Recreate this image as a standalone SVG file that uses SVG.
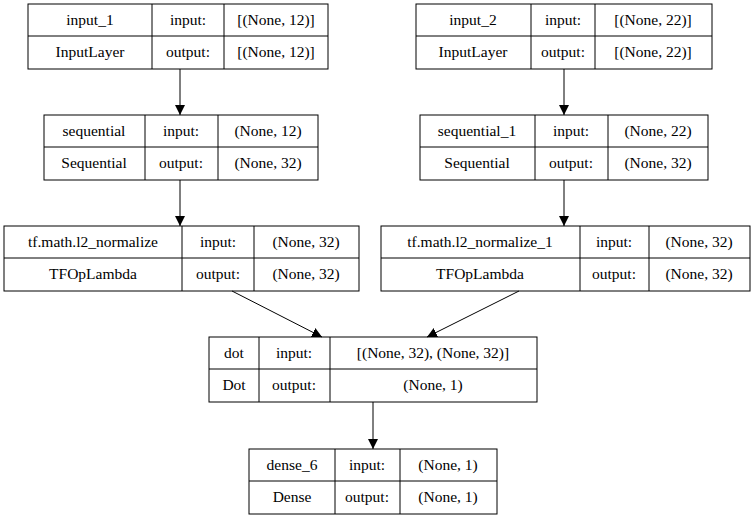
<svg xmlns="http://www.w3.org/2000/svg" width="755" height="516" viewBox="0 0 755 516">
<style>
rect{fill:#fff;stroke:#000;stroke-width:1}
line.d{stroke:#000;stroke-width:1}
text{font-family:"Liberation Serif",serif;font-size:15.5px;text-anchor:middle;fill:#000}
.c line{stroke:#000;stroke-width:1}
</style>
<defs><marker id="a" viewBox="0 0 10 10" refX="10" refY="5" markerWidth="10" markerHeight="10" markerUnits="userSpaceOnUse" orient="auto"><path d="M0,0L10,5L0,10z" fill="#000"/></marker></defs>
<rect x="0" y="0" width="755" height="516" style="stroke:none"/>
<g id="input_1"><rect x="28" y="4" width="300" height="65"/><line class="d" x1="28" y1="36" x2="328" y2="36"/><line class="d" x1="152" y1="4" x2="152" y2="69"/><line class="d" x1="224" y1="4" x2="224" y2="69"/>
<text x="90" y="25">input_1</text><text x="188" y="25">input:</text><text x="276" y="25">[(None, 12)]</text>
<text x="90" y="57">InputLayer</text><text x="188" y="57">output:</text><text x="276" y="57">[(None, 12)]</text></g>
<g id="input_2"><rect x="416" y="4" width="296" height="65"/><line class="d" x1="416" y1="36" x2="712" y2="36"/><line class="d" x1="531" y1="4" x2="531" y2="69"/><line class="d" x1="595" y1="4" x2="595" y2="69"/>
<text x="473" y="25">input_2</text><text x="563" y="25">input:</text><text x="653" y="25">[(None, 22)]</text>
<text x="473" y="57">InputLayer</text><text x="563" y="57">output:</text><text x="653" y="57">[(None, 22)]</text></g>
<g id="sequential"><rect x="44" y="115" width="274" height="65"/><line class="d" x1="44" y1="147" x2="318" y2="147"/><line class="d" x1="145" y1="115" x2="145" y2="180"/><line class="d" x1="218" y1="115" x2="218" y2="180"/>
<text x="94" y="136">sequential</text><text x="181" y="136">input:</text><text x="268" y="136">(None, 12)</text>
<text x="94" y="168">Sequential</text><text x="181" y="168">output:</text><text x="268" y="168">(None, 32)</text></g>
<g id="sequential_1"><rect x="420" y="115" width="288" height="65"/><line class="d" x1="420" y1="147" x2="708" y2="147"/><line class="d" x1="535" y1="115" x2="535" y2="180"/><line class="d" x1="608" y1="115" x2="608" y2="180"/>
<text x="477" y="136">sequential_1</text><text x="571" y="136">input:</text><text x="658" y="136">(None, 22)</text>
<text x="477" y="168">Sequential</text><text x="571" y="168">output:</text><text x="658" y="168">(None, 32)</text></g>
<g id="l2n"><rect x="4" y="226" width="355" height="65"/><line class="d" x1="4" y1="258" x2="359" y2="258"/><line class="d" x1="182" y1="226" x2="182" y2="291"/><line class="d" x1="254" y1="226" x2="254" y2="291"/>
<text x="93" y="247">tf.math.l2_normalize</text><text x="218" y="247">input:</text><text x="306" y="247">(None, 32)</text>
<text x="93" y="279">TFOpLambda</text><text x="218" y="279">output:</text><text x="306" y="279">(None, 32)</text></g>
<g id="l2n_1"><rect x="381" y="226" width="369" height="65"/><line class="d" x1="381" y1="258" x2="750" y2="258"/><line class="d" x1="580" y1="226" x2="580" y2="291"/><line class="d" x1="649" y1="226" x2="649" y2="291"/>
<text x="480" y="247">tf.math.l2_normalize_1</text><text x="614" y="247">input:</text><text x="699" y="247">(None, 32)</text>
<text x="480" y="279">TFOpLambda</text><text x="614" y="279">output:</text><text x="699" y="279">(None, 32)</text></g>
<g id="dot"><rect x="209" y="337" width="328" height="65"/><line class="d" x1="209" y1="369" x2="537" y2="369"/><line class="d" x1="259" y1="337" x2="259" y2="402"/><line class="d" x1="330" y1="337" x2="330" y2="402"/>
<text x="234" y="358">dot</text><text x="294" y="358">input:</text><text x="433" y="358">[(None, 32), (None, 32)]</text>
<text x="234" y="390">Dot</text><text x="294" y="390">output:</text><text x="433" y="390">(None, 1)</text></g>
<g id="dense_6"><rect x="249" y="449" width="248" height="65"/><line class="d" x1="249" y1="481" x2="497" y2="481"/><line class="d" x1="335" y1="449" x2="335" y2="514"/><line class="d" x1="400" y1="449" x2="400" y2="514"/>
<text x="292" y="470">dense_6</text><text x="367" y="470">input:</text><text x="448" y="470">(None, 1)</text>
<text x="292" y="502">Dense</text><text x="367" y="502">output:</text><text x="448" y="502">(None, 1)</text></g>
<g class="c" id="connectors">
<line x1="180" y1="69" x2="180" y2="115" marker-end="url(#a)"/>
<line x1="564" y1="69" x2="564" y2="115" marker-end="url(#a)"/>
<line x1="180" y1="180" x2="180" y2="226" marker-end="url(#a)"/>
<line x1="564" y1="180" x2="564" y2="226" marker-end="url(#a)"/>
<line x1="232" y1="291" x2="322" y2="337" marker-end="url(#a)"/>
<line x1="519" y1="291" x2="427" y2="337" marker-end="url(#a)"/>
<line x1="373" y1="402" x2="373" y2="449" marker-end="url(#a)"/>
</g>
</svg>
